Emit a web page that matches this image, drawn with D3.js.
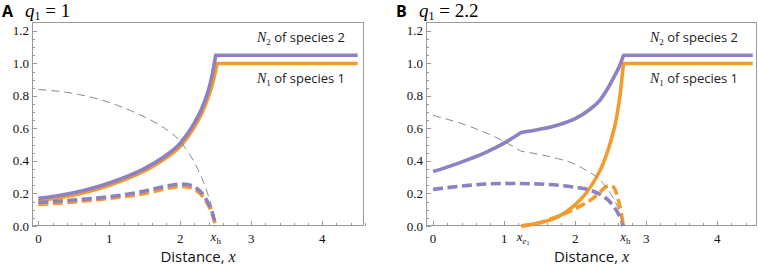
<!DOCTYPE html>
<html>
  <head>
    <meta charset="utf-8" />
    <script src="https://cdnjs.cloudflare.com/ajax/libs/d3/7.8.5/d3.min.js"></script>
    <style>
      body { margin: 0; background: #fff; }
      svg { display: block; }
      .frame { fill: none; stroke: #9a9a9a; stroke-width: 1; }
      .tick { stroke: #9a9a9a; stroke-width: 1; shape-rendering: crispEdges; }
      .num { font-family: "Liberation Serif", "DejaVu Serif", serif; font-size: 13px; fill: #111; }
      .math { font-family: "Liberation Serif", serif; font-style: italic; }
      .sans { font-family: "Open Sans", "DejaVu Sans", sans-serif; }
    </style>
  </head>
  <body>
    <svg width="759" height="267"></svg>
  </body>
  <script>
    // values: [distance x, density]
    const yTicks = [0, 0.2, 0.4, 0.6, 0.8, 1.0, 1.2];
    const xTicks = [0, 1, 2, 3, 4];

    // panel A, q1 = 1
    const a_N1 = [[0, 0.155], [0.5, 0.19], [1, 0.25], [1.5, 0.34], [1.75, 0.405], [2, 0.49], [2.2, 0.61], [2.3, 0.69], [2.4, 0.8], [2.47, 0.9], [2.52, 1.0]];
    const a_N2 = [[0, 0.17], [0.5, 0.205], [1, 0.265], [1.5, 0.355], [1.75, 0.42], [2, 0.51], [2.2, 0.635], [2.3, 0.72], [2.4, 0.84], [2.45, 0.93], [2.5, 1.05]];
    const a_N1d = [[0, 0.132], [0.5, 0.148], [1, 0.17], [1.5, 0.2], [1.8, 0.23], [2, 0.243], [2.1, 0.24], [2.2, 0.225], [2.3, 0.19], [2.4, 0.125], [2.45, 0.075], [2.5, 0]];
    const a_N2d = [[0, 0.145], [0.5, 0.16], [1, 0.18], [1.5, 0.215], [1.8, 0.245], [2, 0.258], [2.1, 0.255], [2.2, 0.24], [2.3, 0.205], [2.4, 0.135], [2.45, 0.085], [2.5, 0]];
    const a_grey = [[0, 0.84], [0.5, 0.815], [1, 0.76], [1.3, 0.71], [1.5, 0.67], [1.75, 0.61], [2, 0.52], [2.2, 0.39], [2.3, 0.3], [2.4, 0.18], [2.47, 0.07], [2.5, 0]];
    const a_xh = 2.5;

    // panel B, q1 = 2.2
    const b_N1 = [[1.24, 0], [1.5, 0.02], [1.75, 0.055], [2, 0.13], [2.15, 0.2], [2.3, 0.3], [2.4, 0.39], [2.5, 0.52], [2.58, 0.66], [2.63, 0.8], [2.68, 1.0]];
    const b_N2a = [[0, 0.335], [0.25, 0.37], [0.5, 0.41], [0.75, 0.455], [1, 0.51], [1.24, 0.575]];
    const b_N2b = [[1.24, 0.575], [1.5, 0.595], [1.75, 0.62], [2, 0.66], [2.2, 0.715], [2.35, 0.775], [2.45, 0.84], [2.55, 0.92], [2.62, 0.98], [2.68, 1.05]];
    const b_N1d = [[1.24, 0], [1.5, 0.02], [1.7, 0.05], [1.9, 0.085], [2.1, 0.13], [2.25, 0.17], [2.35, 0.21], [2.45, 0.245], [2.5, 0.248], [2.55, 0.235], [2.6, 0.17], [2.64, 0.1], [2.68, 0]];
    const b_N2d = [[0, 0.225], [0.5, 0.25], [1, 0.262], [1.5, 0.258], [2, 0.238], [2.2, 0.222], [2.35, 0.195], [2.45, 0.165], [2.55, 0.115], [2.62, 0.065], [2.68, 0]];
    const b_greyA = [[0, 0.68], [0.5, 0.615], [1, 0.52], [1.24, 0.46]];
    const b_greyB = [[1.24, 0.46], [1.5, 0.44], [1.75, 0.415], [2, 0.38], [2.2, 0.33], [2.35, 0.285], [2.45, 0.23], [2.55, 0.16], [2.63, 0.08], [2.68, 0]];
    const b_xh = 2.68;
    const b_xe = 1.24;
    const xEnd = 4.5;

    const purple = "#8d80c3";
    const orange = "#f39b2c";
    const svg = d3.select("svg");

    function panel(p) {
      const x = d3.scaleLinear().domain(p.xDomain).range([p.left, p.right]);
      const y = d3.scaleLinear().domain([0, 1.255]).range([226, 22]);
      const g = svg.append("g");

      g.append("rect").attr("class", "frame")
        .attr("x", p.left + 0.5).attr("y", 22.5)
        .attr("width", p.right - p.left - 1).attr("height", 226 - 22 - 1);

      // minor + major ticks, pointing inward
      d3.range(0, 1.2001, 0.05).forEach((v, i) => {
        const major = i % 4 === 0;
        g.append("line").attr("class", "tick")
          .attr("x1", p.left).attr("x2", p.left + (major ? 5 : 3))
          .attr("y1", Math.round(y(v)) + 0.5).attr("y2", Math.round(y(v)) + 0.5);
      });
      d3.range(0, 4.6001, 0.2).forEach((v, i) => {
        const major = i % 5 === 0;
        g.append("line").attr("class", "tick")
          .attr("x1", Math.round(x(v)) + 0.5).attr("x2", Math.round(x(v)) + 0.5)
          .attr("y1", 226).attr("y2", 226 - (major ? 5 : 3));
      });

      g.selectAll(".ylab").data(yTicks).enter().append("text")
        .attr("class", "num").attr("text-anchor", "end")
        .attr("x", p.left - 3).attr("y", (d) => y(d) + 4.5)
        .text((d) => d.toFixed(1));
      g.selectAll(".xlab").data(xTicks).enter().append("text")
        .attr("class", "num").attr("text-anchor", "middle")
        .attr("x", (d) => x(d)).attr("y", 243)
        .text((d) => d);

      // special x labels
      p.marks.forEach((m) => {
        const t = g.append("text").attr("class", "num").attr("text-anchor", "middle")
          .attr("x", x(m.at) + (m.dx || 0)).attr("y", 241);
        t.append("tspan").attr("class", "math").text("x");
        if (m.sub === "e1") {
          t.append("tspan").attr("font-size", 9).attr("class", "math").attr("dy", 2.5).text("e");
          t.append("tspan").attr("font-size", 6).attr("dy", 1.5).text("1");
        } else {
          t.append("tspan").attr("font-size", 9).attr("dy", 2.5).text("h");
        }
      });

      const line = d3.line().x((d) => x(d[0])).y((d) => y(d[1])).curve(d3.curveMonotoneX);
      const join = (segs) => segs.map((s, i) => {
        const d = line(s);
        return i === 0 ? d : "L" + d.slice(1);
      }).join("");

      p.series.forEach((s) => {
        g.append("path").attr("d", join(s.segs))
          .attr("fill", "none").attr("stroke", s.color)
          .attr("stroke-width", s.w)
          .attr("stroke-dasharray", s.dash || null)
          .attr("stroke-linejoin", "round");
      });

      // legend labels
      [[p.lab2, 42, "2"], [p.lab1, 83, "1"]].forEach(([lx, ly, n]) => {
        const t = g.append("text").attr("x", lx).attr("y", ly).attr("font-size", 13).attr("fill", "#222");
        t.append("tspan").attr("class", "math").attr("font-size", 14).text("N");
        t.append("tspan").attr("font-family", "Liberation Serif").attr("font-size", 9).attr("dy", 3).text(n);
        t.append("tspan").attr("class", "sans").attr("dy", -3).text(" of species " + n);
      });

      // panel title
      svg.append("text").attr("x", p.left - 30).attr("y", 17)
        .attr("class", "sans").attr("font-weight", "bold").attr("font-size", 16).text(p.letter);
      const q = svg.append("text").attr("x", p.left - 7).attr("y", 17)
        .attr("font-family", "Liberation Serif").attr("font-size", 19);
      q.append("tspan").attr("font-style", "italic").text("q");
      q.append("tspan").attr("font-size", 12).attr("dy", 3).text("1");
      q.append("tspan").attr("dy", -3).text(" = " + p.q);

      const xl = g.append("text").attr("x", (p.left + p.right) / 2).attr("y", 262)
        .attr("text-anchor", "middle").attr("font-size", 15).attr("fill", "#111");
      xl.append("tspan").attr("class", "sans").text("Distance, ");
      xl.append("tspan").attr("class", "math").attr("font-size", 16).text("x");
    }

    const solid = 3.6, dashes = "10,4.5", grey = "#8a8a8a";

    panel({
      left: 32, right: 364, xDomain: [-0.09, 4.59], letter: "A", q: "1",
      lab2: 257, lab1: 257,
      marks: [{ at: a_xh, sub: "h", dx: 0 }],
      series: [
        { segs: [a_N1, [[2.52, 1.0], [xEnd, 1.0]]], color: orange, w: solid },
        { segs: [a_N2, [[2.5, 1.05], [xEnd, 1.05]]], color: purple, w: solid },
        { segs: [a_N1d], color: orange, w: solid, dash: dashes },
        { segs: [a_N2d], color: purple, w: solid, dash: dashes },
        { segs: [a_grey], color: grey, w: 1, dash: "8,5" },
      ],
    });

    panel({
      left: 426, right: 757, xDomain: [-0.1, 4.56], letter: "B", q: "2.2",
      lab2: 650, lab1: 650,
      marks: [{ at: b_xe, sub: "e1", dx: 2 }, { at: b_xh, sub: "h", dx: 2 }],
      series: [
        { segs: [b_N1, [[2.68, 1.0], [xEnd, 1.0]]], color: orange, w: solid },
        { segs: [b_N2a, b_N2b, [[2.68, 1.05], [xEnd, 1.05]]], color: purple, w: solid },
        { segs: [b_N2d], color: purple, w: solid, dash: dashes },
        { segs: [b_N1d], color: orange, w: solid, dash: dashes },
        { segs: [b_greyA, b_greyB], color: grey, w: 1, dash: "8,5" },
      ],
    });
  </script>
</html>
